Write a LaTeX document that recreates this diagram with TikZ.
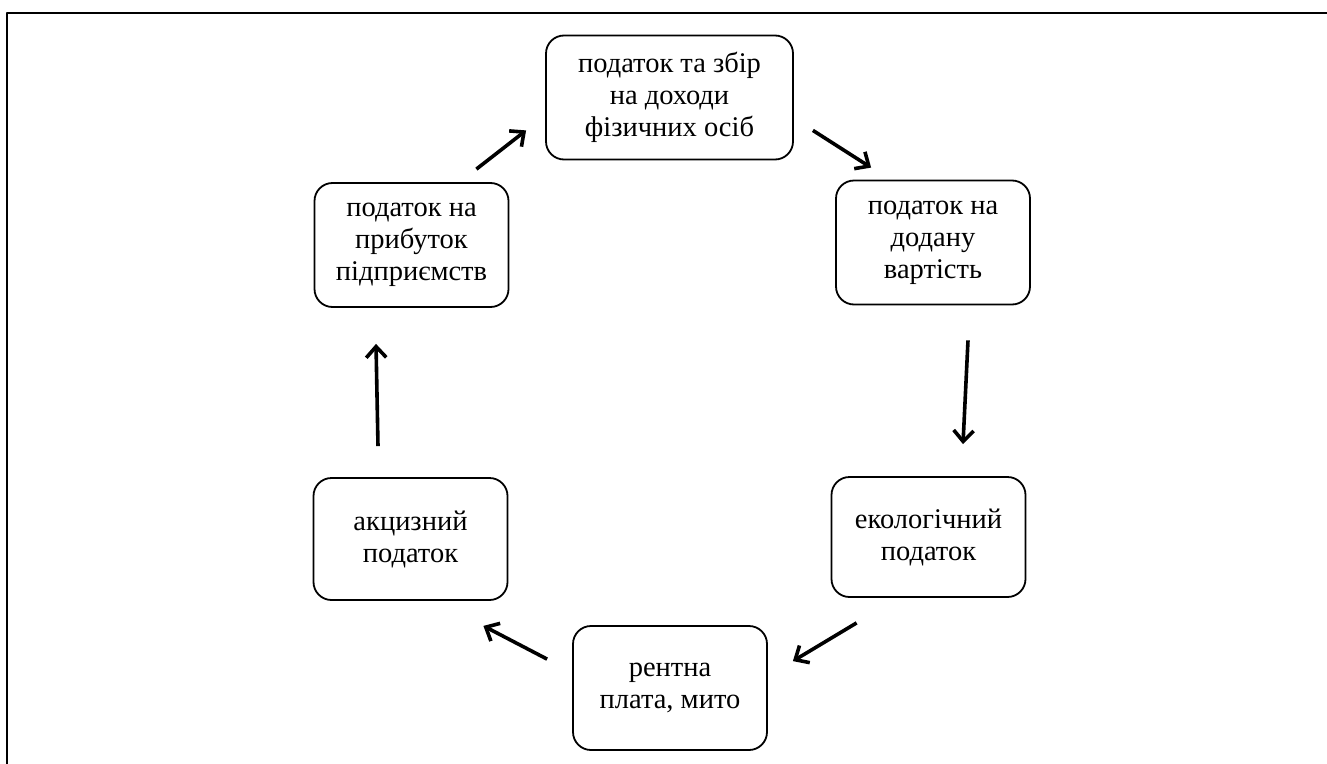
\documentclass[tikz,border=0pt]{standalone}
\usepackage{fontspec}
\setmainfont{Liberation Serif}
\usetikzlibrary{arrows.meta}
\begin{document}
\begin{tikzpicture}[>={Straight Barb[length=11bp,width=20bp]},line join=bevel,
  taxbox/.style={draw,line width=1.8bp,rounded corners=18bp,align=center,
    minimum width=194bp,minimum height=124bp,inner sep=0pt,
    font=\fontsize{28.5bp}{32bp}\selectfont},
  flow/.style={->,line width=3.6bp}]
%%
\useasboundingbox (0bp,0bp) rectangle (1327bp,-764bp);
\draw [line width=1.6bp] (7bp,-13bp) rectangle (1345bp,-790bp);
\node (node_pdfo) at (669.5bp,-97.5bp) [taxbox,minimum width=247bp] {податок та збір\\на доходи\\фізичних осіб};
  \node (node_pdv) at (933bp,-242.5bp) [taxbox] {податок на\\додану\\вартість};
  \node (node_eko) at (928.5bp,-537bp) [taxbox,minimum height=120bp] {екологічний\\податок};
  \node (node_rent) at (670bp,-688bp) [taxbox] {рентна\\плата, мито};
  \node (node_akc) at (410.5bp,-539bp) [taxbox,minimum height=122bp] {акцизний\\податок};
  \node (node_pp) at (411.5bp,-245bp) [taxbox] {податок на\\прибуток\\підприємств};
  \draw [flow] ([xshift=19bp,yshift=30bp]node_pdfo.south east) -- ([xshift=36bp,yshift=12bp]node_pdv.north west);
  \draw [flow] ([xshift=35bp,yshift=-35bp]node_pdv.south) -- ([xshift=34.5bp,yshift=32bp]node_eko.north);
  \draw [flow] ([xshift=26bp,yshift=-25bp]node_eko.south west) -- ([xshift=25bp,yshift=-36bp]node_rent.north east);
  \draw [flow] ([xshift=-25bp,yshift=-34bp]node_rent.north west) -- ([xshift=-25bp,yshift=-25bp]node_akc.south east);
  \draw [flow] ([xshift=-32.5bp,yshift=31bp]node_akc.north) -- ([xshift=-35.5bp,yshift=-36bp]node_pp.south);
  \draw [flow] ([xshift=-33bp,yshift=13bp]node_pp.north east) -- ([xshift=-19bp,yshift=30bp]node_pdfo.south west);
%
\end{tikzpicture}
\end{document}
